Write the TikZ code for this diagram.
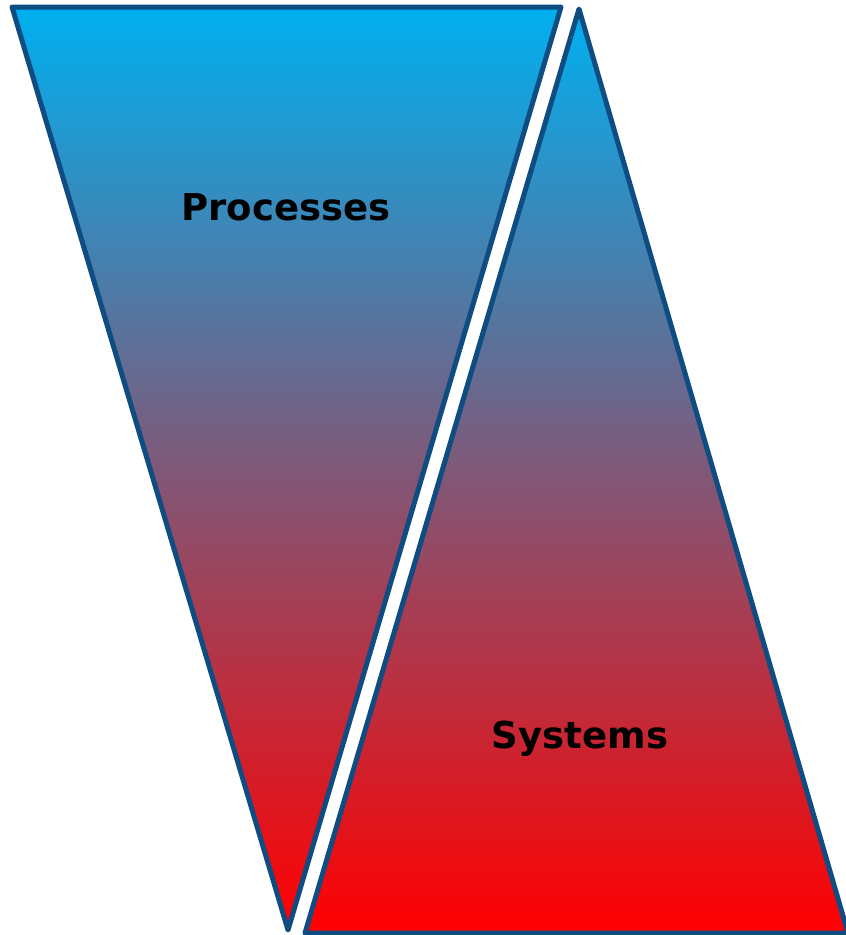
\documentclass[tikz,border=0pt]{standalone}
\usepackage{fontspec}
\setmainfont{DejaVu Sans}
\definecolor{edgeblue}{HTML}{0E4C82}
\definecolor{topcyan}{HTML}{00B0F0}
\definecolor{botred}{HTML}{FF0000}
\tikzset{
  wedge/.style={draw=edgeblue,line width=5pt,line join=round,top color=topcyan,bottom color=botred},
  tag/.style={font=\fontsize{37}{41}\selectfont\bfseries,text=black}
}
\begin{document}
\begin{tikzpicture}[x=1pt,y=-1pt]
	\useasboundingbox (0,0) rectangle (846,935);

	\path[wedge] (12,7) -- (561,7) -- (288,930) -- cycle; % downward wedge
	\path[wedge] (579,9) -- (848,933) -- (305,933) -- cycle; % upward wedge

	\node[tag] (proc) at (286,207) {Processes};
	\node[tag] (sys) at (580,739) {Systems};
\end{tikzpicture}
\end{document}
